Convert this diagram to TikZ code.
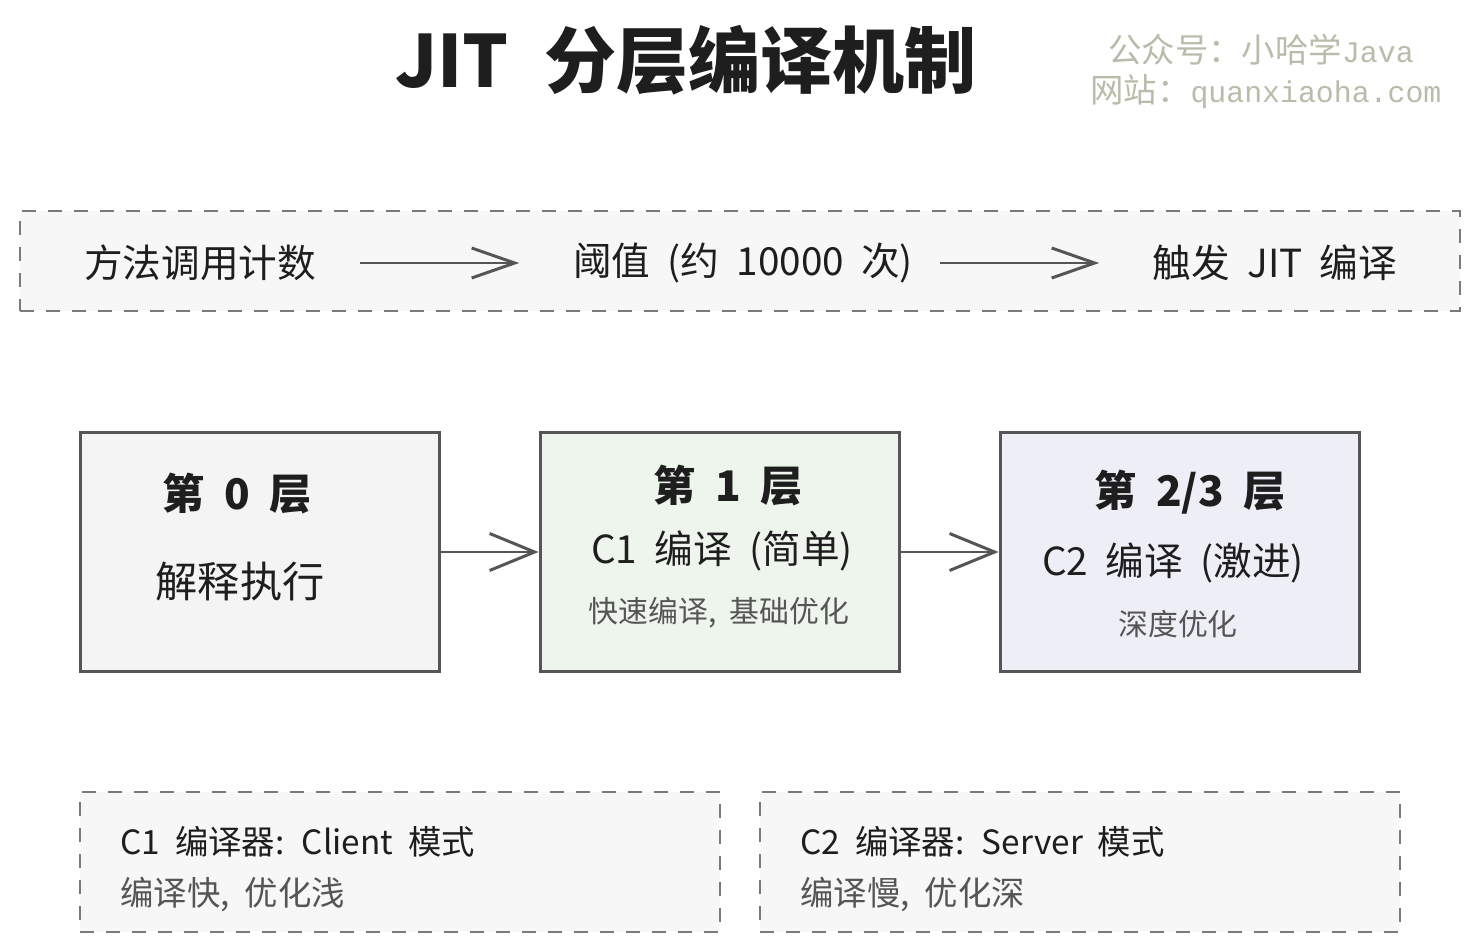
\documentclass[tikz,border=0pt]{standalone}
\usepackage{fontspec}
\setmainfont[WordSpace=2]{Noto Sans CJK SC}
\newfontfamily\markfont{Liberation Mono}
\newfontfamily\markcjk{Noto Sans CJK SC}
\usetikzlibrary{arrows.meta}
\definecolor{inkdark}{HTML}{1E1E1E}
\definecolor{inkgray}{HTML}{555555}
\definecolor{dashgray}{HTML}{7A7A7A}
\definecolor{fillgray}{HTML}{F4F4F4}
\definecolor{fillpale}{HTML}{F7F7F7}
\definecolor{fillgreen}{HTML}{EEF5EC}
\definecolor{filllilac}{HTML}{EEEFF6}
\definecolor{markgray}{HTML}{B9BCAA}
\tikzstyle{tierbox}=[draw=inkgray,line width=1.7pt,minimum width=7.2cm,minimum height=4.8cm,inner sep=0pt]
\tikzstyle{notebox}=[draw=dashgray,line width=1.2pt,dash pattern=on 0.28cm off 0.24cm,fill=fillpale,inner sep=0pt]
\tikzstyle{flowarc}=[-{Straight Barb[length=0.86cm,width=0.6cm]},draw=inkgray,line width=1.7pt]
\tikzstyle{tierarc}=[-{Straight Barb[length=0.9cm,width=0.74cm]},draw=inkgray,line width=1.7pt]
\tikzstyle{flowtext}=[text=inkdark,font=\fontsize{22pt}{26pt}\selectfont,inner sep=0pt]
\tikzstyle{tierhead}=[text=inkdark,font=\fontsize{24pt}{28pt}\selectfont\bfseries,inner sep=0pt]
\tikzstyle{tiermain}=[text=inkdark,font=\fontsize{22pt}{26pt}\selectfont,inner sep=0pt]
\tikzstyle{tiersub}=[text=inkgray,font=\fontsize{17pt}{20pt}\selectfont,inner sep=0pt]
\tikzstyle{notetext}=[anchor=west,text=inkdark,font=\fontsize{19pt}{22pt}\selectfont,inner sep=0pt]
\tikzstyle{notesub}=[anchor=west,text=inkgray,font=\fontsize{19pt}{22pt}\selectfont,inner sep=0pt]
\tikzstyle{marktext}=[anchor=west,text=markgray,font=\fontsize{19pt}{22pt}\selectfont,inner sep=0pt]
\newcommand{\markurl}[1]{{\markfont\fontsize{17pt}{22pt}\selectfont #1}}

\begin{document}
\begin{tikzpicture}[x=0.02cm,y=-0.02cm]
\useasboundingbox[fill=white] (0,0) rectangle (1479,952);

\node[text=inkdark,font=\fontsize{41pt}{46pt}\selectfont\bfseries] (title) at (686,60) {JIT\hspace{0.5em}分层编译机制};
\node[marktext] (mark1) at (1108,50) {\markcjk 公众号：小哈学\markurl{Java}};
\node[marktext] (mark2) at (1090,92) {\markcjk 网站：\markurl{quanxiaoha.com}};

% trigger row
\node[notebox,minimum width=28.8cm,minimum height=2cm] (trigger) at (740,261) {};
\node[flowtext,minimum width=4.7cm] (count) at (200,263) {方法调用计数};
\node[flowtext,minimum width=7.26cm] (limit) at (743,263) {阈值 (约 10000 次)};
\node[flowtext,minimum width=5.3cm] (fire) at (1275,263) {触发 JIT 编译};
\draw[flowarc,shorten <=0.84cm,shorten >=0.84cm] (count) -- (limit);
\draw[flowarc,shorten <=0.3cm,shorten >=0.86cm] (limit) -- (fire);

% tiers
\node[tierbox,fill=fillgray] (T0) at (260,552) {};
\node[tierbox,fill=fillgreen] (T1) at (720,552) {};
\node[tierbox,fill=filllilac] (T2) at (1180,552) {};

\node[tierhead] (T0head) at (237,494) {第 0 层};
\node[tiermain,font=\fontsize{24pt}{28pt}\selectfont] (T0main) at (240,582) {解释执行};

\node[tierhead] (T1head) at (728,486) {第 1 层};
\node[tiermain] (T1main) at (722,551) {C1 编译 (简单)};
\node[tiersub] (T1sub) at (719,613) {快速编译, 基础优化};

\node[tierhead] (T2head) at (1190,492) {第 2/3 层};
\node[tiermain] (T2main) at (1173,563) {C2 编译 (激进)};
\node[tiersub] (T2sub) at (1178,624) {深度优化};

\draw[tierarc] (T0) -- (T1);
\draw[tierarc] (T1) -- (T2);

% compiler notes
\node[notebox,minimum width=12.8cm,minimum height=2.8cm] (C1note) at (400,862) {};
\node[notebox,minimum width=12.8cm,minimum height=2.8cm] (C2note) at (1080,862) {};
\node[notetext] (C1title) at (120,842) {C1 编译器: Client 模式};
\node[notesub] (C1sub) at (120,895) {编译快, 优化浅};
\node[notetext] (C2title) at (800,842) {C2 编译器: Server 模式};
\node[notesub] (C2sub) at (800,895) {编译慢, 优化深};

\end{tikzpicture}
\end{document}
